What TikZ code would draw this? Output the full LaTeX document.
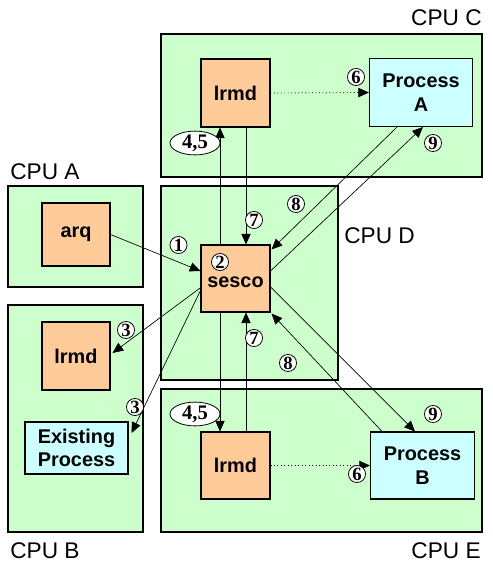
\documentclass[tikz,border=0pt]{standalone}
\usepackage{fontspec}
\setmainfont{Liberation Sans}
\newfontfamily\numfont{Liberation Serif}
\usetikzlibrary{calc,arrows.meta,shapes.geometric}
\definecolor{cpugreen}{HTML}{CCFFCC}
\definecolor{procorange}{HTML}{FFCC99}
\definecolor{proccyan}{HTML}{CCFFFF}
\tikzset{
  cpubox/.style={draw=black, line width=1pt, fill=cpugreen, inner sep=0pt},
  obox/.style={draw=black, line width=0.8pt, fill=procorange, inner sep=0pt, align=center, font=\fontsize{14.9}{17.5}\selectfont\bfseries},
  cbox/.style={draw=black, line width=0.8pt, fill=proccyan, inner sep=0pt, align=center, font=\fontsize{14.9}{17.5}\selectfont\bfseries},
  cpulabel/.style={font=\fontsize{17}{20}\selectfont, inner sep=0pt},
  circnum/.style={circle, draw=black, line width=0.6pt, fill=white, inner sep=0pt, minimum size=12.8pt, font=\numfont\fontsize{14}{14}\selectfont\bfseries},
  ovalnum/.style={ellipse, draw=black, line width=0.6pt, fill=white, inner sep=0pt, minimum width=37.5pt, minimum height=11pt, font=\numfont\fontsize{15.5}{15.5}\selectfont\bfseries},
  conn/.style={line width=0.5pt, -{Triangle[length=8pt,width=7pt]}},
  dconn/.style={line width=0.6pt, dotted, -{Triangle[length=8pt,width=7pt]}}
}
\begin{document}
\begin{tikzpicture}[x=0.75pt,y=-0.75pt]
\useasboundingbox (0,0) rectangle (493,572);
% CPU boxes
\node[cpubox, minimum width=240.75pt, minimum height=107.25pt] (cpuC) at (321.5,105.5) {};
\node[cpubox, minimum width=101.25pt, minimum height=75.75pt] (cpuA) at (75.5,236.5) {};
\node[cpubox, minimum width=101.25pt, minimum height=170.25pt] (cpuB) at (75.5,418.5) {};
\node[cpubox, minimum width=132.75pt, minimum height=145.5pt] (cpuD) at (249.5,283) {};
\node[cpubox, minimum width=240.75pt, minimum height=107.25pt] (cpuE) at (321.5,460.5) {};
% CPU labels
\node[cpulabel, anchor=east] (labC) at (482,18) {CPU C};
\node[cpulabel, anchor=west] (labA) at (10,172) {CPU A};
\node[cpulabel, anchor=west] (labB) at (10,551) {CPU B};
\node[cpulabel, anchor=west] (labD) at (344,236) {CPU D};
\node[cpulabel, anchor=east] (labE) at (481,551) {CPU E};
% process boxes
\node[obox, minimum width=51pt, minimum height=47.25pt] (arq) at (76,234.5) {arq};
\node[obox, minimum width=51pt, minimum height=51pt] (lrmdB) at (76,356) {lrmd};
\node[cbox, minimum width=77.25pt, minimum height=39pt] (exist) at (76.5,448) {Existing\\Process};
\node[obox, minimum width=51.75pt, minimum height=51pt] (lrmdC) at (235.5,93) {lrmd};
\node[cbox, minimum width=77.25pt, minimum height=51pt] (procA) at (421,92.5) {Process\\A};
\node[obox, minimum width=51.75pt, minimum height=50.25pt] (sesco) at (235.5,278.5) {};
\node[font=\fontsize{14.9}{17.5}\selectfont\bfseries, inner sep=0pt] (sescotxt) at (235.5,282) {sesco};
\node[obox, minimum width=51.75pt, minimum height=50.25pt] (lrmdE) at (235.5,465.5) {lrmd};
\node[cbox, minimum width=78pt, minimum height=50.25pt] (procB) at (422.5,465.5) {Process\\B};
% connectors
\draw[conn] (arq.east) -- ($(sesco.west)+(0,-7.5)$);
\draw[conn] ($(sesco.north)+(-15.5,0)$) -- ($(lrmdC.south)+(-15.5,0)$);
\draw[conn] ($(lrmdC.south)+(10.5,0)$) -- ($(sesco.north)+(10.5,0)$);
\draw[conn] ($(sesco.south)+(-15.5,0)$) -- ($(lrmdE.north)+(-15.5,0)$);
\draw[conn] ($(lrmdE.north)+(10.5,0)$) -- ($(sesco.south)+(10.5,0)$);
\draw[conn] ($(procA.south)+(-24,0)$) -- ($(sesco.north east)+(1,5)$);
\draw[conn] ($(sesco.east)+(0,-7.5)$) -- ($(procA.south)+(2,0)$);
\draw[conn] ($(sesco.east)+(0,8.5)$) -- ($(procB.north)+(-7.5,0)$);
\draw[conn] ($(procB.north)+(-40.5,0)$) -- ($(sesco.south east)+(1,1)$);
\draw[conn] ($(sesco.west)+(1,8.5)$) -- ($(lrmdB.east)+(2,-3)$);
\draw[conn] ($(sesco.west)+(1,10)$) -- ($(exist.east)+(3,-15)$);
\draw[dconn] (lrmdC.east) -- (procA.west);
\draw[dconn] (lrmdE.east) -- (procB.west);
% number labels
\node[circnum] (n1) at (178.5,245) {1};
\node[circnum] (n2) at (220,262) {2};
\node[circnum] (n7a) at (254,220) {7};
\node[circnum] (n8a) at (296,204) {8};
\node[circnum] (n7b) at (254,338) {7};
\node[circnum] (n8b) at (288,363) {8};
\node[circnum] (n3a) at (126,330) {3};
\node[circnum] (n3b) at (135,407) {3};
\node[circnum] (n6a) at (356,77) {6};
\node[circnum] (n9a) at (433,143) {9};
\node[circnum] (n9b) at (433,414) {9};
\node[circnum] (n6b) at (357,474) {6};
\node[ovalnum] (n45a) at (195,143) {4,5};
\node[ovalnum] (n45b) at (195,414) {4,5};
\end{tikzpicture}
\end{document}
